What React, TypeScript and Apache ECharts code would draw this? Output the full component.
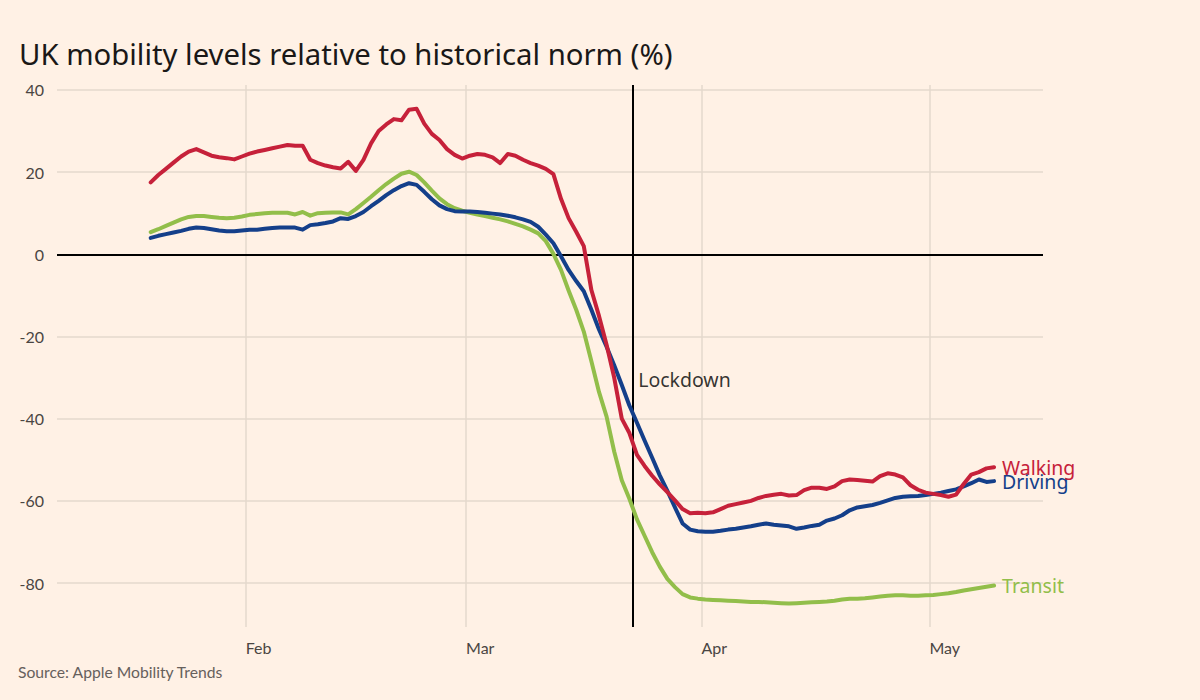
import React, { useEffect, useRef } from "react";
import * as echarts from "echarts";

const START_DATE = "2020-01-19";
const LOCKDOWN_DATE = "2020-03-23";
const MONTHS = ["Jan", "Feb", "Mar", "Apr", "May", "Jun", "Jul", "Aug", "Sep", "Oct", "Nov", "Dec"];
const Y_TICKS = [-80, -60, -40, -20, 0, 20, 40];

const walking = [
  17.5, 19.3, 20.8, 22.3, 23.8, 25.0, 25.6, 24.8, 24.0, 23.6,
  23.4, 23.1, 23.8, 24.5, 25.0, 25.4, 25.8, 26.2, 26.6, 26.4,
  26.4, 23.0, 22.2, 21.6, 21.2, 20.9, 22.5, 20.3, 23.0, 27.0,
  30.0, 31.6, 32.9, 32.6, 35.2, 35.4, 31.8, 29.3, 27.8, 25.6,
  24.2, 23.3, 24.0, 24.4, 24.2, 23.6, 22.2, 24.4, 24.0, 23.0,
  22.2, 21.6, 20.8, 19.5, 13.5, 8.8, 5.5, 2.0, -8.7, -15.0,
  -22.0, -30.0, -40.0, -43.5, -48.8, -51.5, -53.9, -56.0, -57.9, -59.9,
  -62.0, -63.0, -62.9, -63.0, -62.8, -62.0, -61.2, -60.8, -60.4, -60.0,
  -59.3, -58.8, -58.5, -58.3, -58.7, -58.6, -57.4, -56.8, -56.8, -57.1,
  -56.5, -55.2, -54.8, -54.9, -55.1, -55.3, -54.0, -53.3, -53.6, -54.3,
  -56.2, -57.3, -58.0, -58.3, -58.6, -59.0, -58.5, -55.9, -53.6, -53.0,
  -52.1, -51.8,
];

const driving = [
  4.0, 4.5, 4.9, 5.3, 5.7, 6.2, 6.5, 6.4, 6.1, 5.8,
  5.6, 5.6, 5.8, 6.0, 6.0, 6.2, 6.4, 6.5, 6.5, 6.5,
  6.0, 7.1, 7.3, 7.6, 8.0, 8.8, 8.6, 9.3, 10.3, 11.7,
  13.0, 14.4, 15.6, 16.6, 17.3, 16.9, 15.2, 13.4, 11.9, 11.0,
  10.5, 10.4, 10.4, 10.3, 10.1, 9.9, 9.7, 9.4, 9.0, 8.5,
  7.9, 6.7, 4.8, 2.7, -0.5, -3.8, -6.5, -9.0, -13.5, -18.3,
  -22.5, -27.0, -31.8, -36.8, -41.0, -45.3, -49.5, -53.8, -57.6, -61.6,
  -65.5, -67.0, -67.4, -67.5, -67.5, -67.3, -67.0, -66.8, -66.5, -66.2,
  -65.8, -65.5, -65.8, -66.0, -66.2, -66.8, -66.5, -66.1, -65.8, -64.8,
  -64.3, -63.5, -62.3, -61.6, -61.3, -61.0, -60.5, -59.9, -59.3, -59.0,
  -58.9, -58.8, -58.6, -58.3, -58.0, -57.6, -57.2, -56.5, -55.7, -54.8,
  -55.4, -55.2,
];

const transit = [
  5.4, 6.1, 6.9, 7.7, 8.5, 9.1, 9.3, 9.3, 9.1, 8.9,
  8.8, 8.9, 9.2, 9.6, 9.8, 10.0, 10.1, 10.1, 10.1, 9.7,
  10.3, 9.4, 10.0, 10.1, 10.2, 10.2, 9.7, 11.0, 12.5, 14.0,
  15.6, 17.1, 18.4, 19.6, 20.1, 19.3, 17.5, 15.5, 13.6, 12.2,
  11.2, 10.6, 10.1, 9.7, 9.3, 8.9, 8.5, 8.0, 7.4, 6.8,
  6.0, 5.1, 3.2, 0.1, -3.8, -8.8, -13.5, -18.8, -26.0, -33.5,
  -39.5, -48.0, -55.0, -59.5, -64.5, -68.5, -72.5, -76.0, -79.0, -81.0,
  -82.7, -83.5, -83.8, -84.0, -84.1, -84.2, -84.3, -84.4, -84.5, -84.6,
  -84.6, -84.7, -84.8, -84.9, -85.0, -84.9, -84.8, -84.7, -84.6, -84.5,
  -84.3, -84.0, -83.8, -83.8, -83.7, -83.5, -83.3, -83.1, -83.0, -83.0,
  -83.1, -83.1, -83.0, -82.9, -82.7, -82.5, -82.2, -81.8, -81.5, -81.2,
  -80.9, -80.6,
];

const DAY = 86400000;
const startTs = Date.parse(START_DATE + "T12:00:00Z");
const dates = walking.map((_, i) => startTs + i * DAY);
const lockdownTs = Date.parse(LOCKDOWN_DATE + "T00:00:00Z");

const FONT = "Lato, 'Noto Sans', sans-serif";
const FONT_WIDE = "'Noto Sans', sans-serif";
const BG = "#FFF1E5";
const GRID = "#E4D8CC";
const AXIS_TEXT = "#4a4542";
const RED = "#C6213A";
const BLUE = "#143F8A";
const GREEN = "#92BE4A";

export default function App() {
  const ref = useRef<HTMLDivElement>(null);
  useEffect(() => {
    if (!ref.current) return;
    const chart = echarts.init(ref.current, null, { renderer: "svg" });
    const mk = (name: string, vals: number[], color: string) => ({
      type: "line",
      name,
      data: vals.map((v, i) => [dates[i], v]),
      showSymbol: false,
      symbol: "none",
      z: 3,
      lineStyle: { color, width: 4, cap: "round", join: "round" },
      itemStyle: { color },
      endLabel: {
        show: true,
        formatter: name,
        color,
        fontSize: 19.5,
        fontFamily: FONT_WIDE,
        distance: 8,
      },
      silent: true,
    });
    chart.setOption({
      animation: false,
      useUTC: true,
      backgroundColor: BG,
      textStyle: { fontFamily: FONT },
      title: {
        text: "UK mobility levels relative to historical norm (%)",
        left: 14,
        top: 34,
        textStyle: { fontSize: 29.3, fontWeight: "normal", color: "#1a1817", fontFamily: FONT_WIDE },
      },
      graphic: [
        {
          type: "text",
          left: 18,
          top: 664,
          style: { text: "Source: Apple Mobility Trends", fontSize: 15.7, fill: "#66605C", fontFamily: FONT },
        },
      ],
      grid: { left: 57, right: 157, top: 85, bottom: 73, containLabel: false },
      xAxis: {
        type: "time",
        min: Date.UTC(2020, 1, 1) - 24.835 * DAY,
        max: Date.UTC(2020, 4, 1) + 14.94 * DAY,
        splitNumber: 4,
        axisLine: { show: false },
        axisTick: { show: false },
        axisLabel: {
          fontSize: 16,
          color: AXIS_TEXT,
          align: "left",
          margin: 12,
          fontFamily: FONT,
          formatter: (v: number) => MONTHS[new Date(v).getUTCMonth()],
        },
        splitLine: {
          show: true,
          showMinLine: false,
          showMaxLine: false,
          lineStyle: { color: GRID, width: 1.5 },
        },
      },
      yAxis: {
        type: "value",
        min: -90.7,
        max: 41.2,
        axisLine: { show: false },
        axisTick: { show: false },
        axisLabel: { show: false },
        splitLine: { show: false },
      },
      series: [
        {
          type: "scatter",
          data: [[lockdownTs, -30.4]],
          symbolSize: 0,
          z: 1,
          silent: true,
          label: {
            show: true,
            position: "right",
            distance: 5,
            formatter: "Lockdown",
            fontSize: 19.5,
            color: "#000",
            fontFamily: FONT_WIDE,
          },
          markLine: {
            silent: true,
            symbol: ["none", "none"],
            z: 1,
            label: {
              show: true,
              position: "start",
              distance: 13,
              fontSize: 16,
              color: AXIS_TEXT,
              fontFamily: FONT,
              formatter: (p: any) => String(p.value),
            },
            data: [
              ...Y_TICKS.map((v) => ({
                yAxis: v,
                lineStyle: v === 0 ? { color: "#000", width: 2, type: "solid" } : { color: GRID, width: 1.5, type: "solid" },
              })),
              {
                xAxis: lockdownTs,
                lineStyle: { color: "#000", width: 2, type: "solid" },
                label: { show: false },
              },
            ],
          },
        },
        mk("Transit", transit, GREEN),
        mk("Driving", driving, BLUE),
        mk("Walking", walking, RED),
      ],
    });
    return () => chart.dispose();
  }, []);
  return (
    <div
      ref={ref}
      style={{ position: "fixed", left: 0, top: 0, width: 1200, height: 700, background: BG }}
    />
  );
}
